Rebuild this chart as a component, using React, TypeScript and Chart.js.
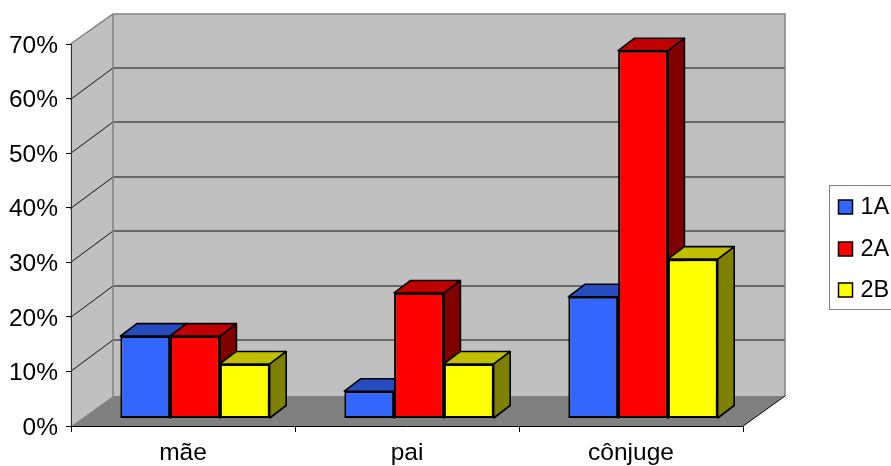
import React, { useEffect, useRef } from "react";
import { Chart, registerables } from "chart.js";

Chart.register(...registerables);

const categories = ["mãe", "pai", "cônjuge"];
const seriesNames = ["1A", "2A", "2B"];
const values1A = [15.1, 5, 22.3];
const values2A = [15.1, 23, 67.4];
const values2B = [10, 10, 29.2];
const faceColors = ["#3366FF", "#FF0000", "#FFFF00"];
const topColors = ["#264CBF", "#BF0000", "#BFBF00"];
const sideColors = ["#193380", "#800000", "#808000"];

const FONT = '"Liberation Sans", Arial, sans-serif';
const FS = 24.5;
const LEGEND_FS = 23.5;
const DEPTH_X = 42.5;
const DEPTH_Y = 30.5;
const GRID_DEPTH_Y = 31.5;
const BAR_SHIFT_X = 12;
const BAR_SHIFT_Y = 7.5;
const BAR_DX = 16.5;
const BAR_DY = 12.5;

const poly = (ctx: CanvasRenderingContext2D, pts: number[][], fill?: string, stroke?: string, lw = 1) => {
  ctx.beginPath();
  pts.forEach((p, i) => (i ? ctx.lineTo(p[0], p[1]) : ctx.moveTo(p[0], p[1])));
  ctx.closePath();
  if (fill) {
    ctx.fillStyle = fill;
    ctx.fill();
  }
  if (stroke) {
    ctx.strokeStyle = stroke;
    ctx.lineWidth = lw;
    ctx.stroke();
  }
};

const wallsPlugin = {
  id: "walls",
  beforeDraw(chart: any) {
    const { ctx, chartArea: a, scales } = chart;
    const l = a.left - 0.5, r = a.right - 0.5, t = a.top, b = a.bottom + 0.5;
    const bl = l + DEPTH_X, br = r + DEPTH_X, bt = t - DEPTH_Y + 0.5, bb = b - DEPTH_Y;
    ctx.save();
    poly(ctx, [[l, t], [bl, bt], [bl, bb], [l, b]], "#C0C0C0");
    poly(ctx, [[bl, bt], [br, bt], [br, bb], [bl, bb]], "#C0C0C0");
    poly(ctx, [[l, b], [r, b], [br, bb], [bl, bb]], "#808080");
    // grid lines on the two walls
    ctx.strokeStyle = "#111111";
    ctx.lineWidth = 1;
    scales.y.ticks.forEach((tk: any) => {
      if (tk.value === 0 || tk.value === 70) return;
      const y = Math.round(scales.y.getPixelForValue(tk.value)) + 0.5;
      ctx.beginPath();
      ctx.moveTo(l, y);
      ctx.lineTo(bl, y - GRID_DEPTH_Y);
      ctx.lineTo(br, y - GRID_DEPTH_Y);
      ctx.stroke();
    });
    // grey wall outlines
    ctx.strokeStyle = "#808080";
    ctx.lineWidth = 1.5;
    ctx.beginPath();
    ctx.moveTo(l, t);
    ctx.lineTo(bl, bt);
    ctx.lineTo(br, bt);
    ctx.lineTo(br, bb);
    ctx.moveTo(bl, bt);
    ctx.lineTo(bl, bb);
    ctx.stroke();
    // black floor edge
    ctx.strokeStyle = "#000000";
    ctx.lineWidth = 1;
    ctx.beginPath();
    ctx.moveTo(r, b);
    ctx.lineTo(br, bb);
    ctx.stroke();
    ctx.restore();
  },
};

// Bars come from Chart.js elements; they are painted first-series-first so that
// each bar's front covers the side face of the bar to its left.
const barDepthPlugin = {
  id: "barDepth",
  beforeDatasetsDraw(chart: any) {
    const { ctx } = chart;
    ctx.save();
    ctx.translate(BAR_SHIFT_X, -BAR_SHIFT_Y);
    ctx.lineJoin = "round";
    chart.data.datasets.forEach((_: any, i: number) => {
      chart.getDatasetMeta(i).data.forEach((bar: any) => {
        const { x, y, base, width } = bar.getProps(["x", "y", "base", "width"], true);
        const l = x - width / 2, r = x + width / 2;
        poly(ctx, [[r, y], [r + BAR_DX, y - BAR_DY], [r + BAR_DX, base - BAR_DY], [r, base]], sideColors[i], "#000000", 1.6);
        poly(ctx, [[l, y], [l + BAR_DX, y - BAR_DY], [r + BAR_DX, y - BAR_DY], [r, y]], topColors[i], "#000000", 1.6);
        bar.draw(ctx);
      });
    });
    ctx.restore();
  },
  beforeDatasetDraw() {
    return false;
  },
};

const legendPlugin = {
  id: "boxLegend",
  afterDraw(chart: any) {
    const { ctx } = chart;
    const rows = [207, 249, 290];
    ctx.save();
    ctx.strokeStyle = "#808080";
    ctx.lineWidth = 1;
    ctx.strokeRect(829.5, 185.5, 80, 124);
    ctx.font = `${LEGEND_FS}px ${FONT}`;
    ctx.textBaseline = "middle";
    ctx.textAlign = "left";
    chart.data.datasets.forEach((d: any, i: number) => {
      ctx.fillStyle = d.backgroundColor;
      ctx.fillRect(838.5, rows[i] - 7, 14, 14);
      ctx.strokeStyle = "#000000";
      ctx.lineWidth = 1.5;
      ctx.strokeRect(838.5, rows[i] - 7, 14, 14);
      ctx.fillStyle = "#000000";
      ctx.fillText(d.label, 860.5, rows[i] + 1);
    });
    ctx.restore();
  },
};

const series = [values1A, values2A, values2B];

export default function App() {
  const ref = useRef<HTMLCanvasElement>(null);
  useEffect(() => {
    const chart = new Chart(ref.current!, {
      type: "bar",
      data: {
        labels: categories,
        datasets: series.map((data, i) => ({
          label: seriesNames[i],
          data,
          backgroundColor: faceColors[i],
          borderColor: "#000000",
          borderWidth: 2,
          borderSkipped: false,
        })),
      },
      plugins: [wallsPlugin, barDepthPlugin, legendPlugin],
      options: {
        responsive: false,
        animation: false,
        layout: { padding: { top: 44, right: 148, left: 0, bottom: 0 } },
        plugins: { legend: { display: false }, tooltip: { enabled: false } },
        datasets: { bar: { categoryPercentage: 0.667, barPercentage: 1 } },
        scales: {
          x: {
            afterFit(s: any) {
              s.height = 40;
            },
            grid: { drawOnChartArea: false, color: "#000000", tickLength: 6, lineWidth: 1 },
            border: { color: "#000000", width: 1 },
            ticks: { color: "#000000", font: { family: FONT, size: FS }, padding: 7, maxRotation: 0 },
          },
          y: {
            min: 0,
            max: 70,
            afterFit(s: any) {
              s.width = 71;
            },
            grid: { drawOnChartArea: false, color: "#000000", tickLength: 5, lineWidth: 1 },
            border: { color: "#333333", width: 1 },
            ticks: {
              stepSize: 10,
              color: "#000000",
              font: { family: FONT, size: FS },
              padding: 8,
              labelOffset: 2,
              callback: (v: any) => `${v}%`,
            },
          },
        },
      } as any,
    });
    return () => chart.destroy();
  }, []);
  return (
    <div style={{ position: "absolute", left: 0, top: 0, width: 891, height: 466, background: "#fff", overflow: "hidden" }}>
      <canvas ref={ref} width={891} height={466} style={{ display: "block" }} />
    </div>
  );
}
